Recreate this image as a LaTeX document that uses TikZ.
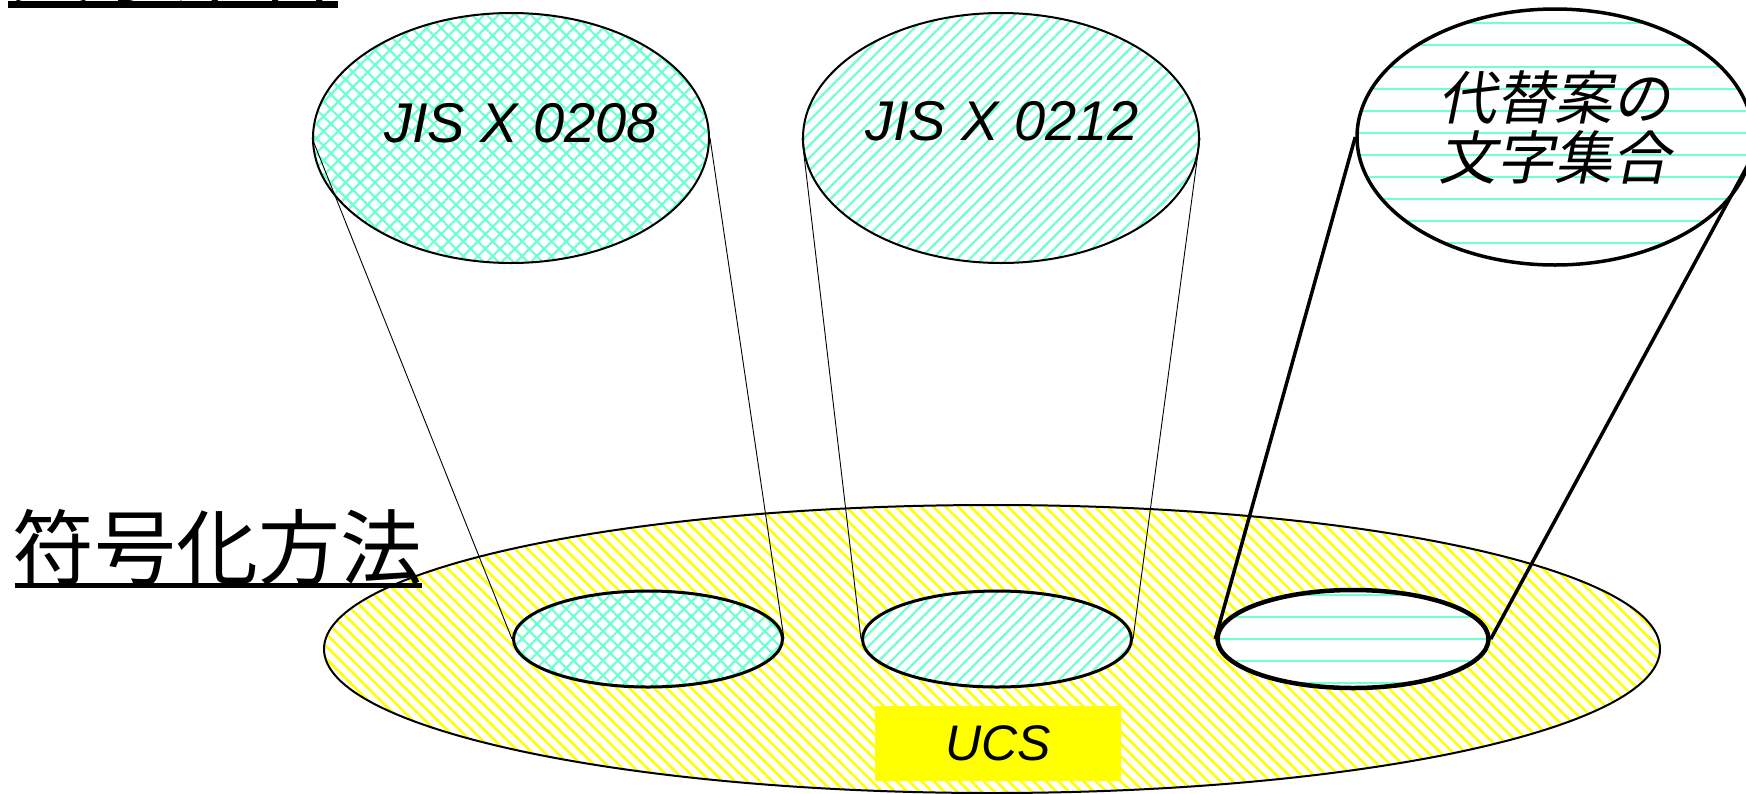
\documentclass[tikz,border=0pt]{standalone}
\usepackage{fontspec}
\usetikzlibrary{shapes.geometric,patterns.meta}
\newfontfamily\jp{Noto Sans CJK JP}
\newfontfamily\jpsl[FakeSlant=0.2]{Noto Sans CJK JP}
\newfontfamily\lat{Liberation Sans}
\definecolor{mint}{RGB}{110,255,210}
\definecolor{ucsyellow}{RGB}{255,255,0}
\tikzset{
  setshape/.style={ellipse, inner sep=0pt, draw=black, preaction={fill=white}},
  cross/.style={pattern={Hatch[angle=45, distance=10.4pt, line width=2.2pt]}, pattern color=mint},
  slant/.style={pattern={Lines[angle=45, distance=8.8pt, line width=2.2pt]}, pattern color=mint},
  flat/.style={pattern={Lines[angle=0, distance=22pt, line width=2pt]}, pattern color=mint},
  thinlink/.style={draw=black, line width=0.9pt},
  thicklink/.style={draw=black, line width=3.5pt},
  heading/.style={anchor=base west, inner sep=0pt, font=\jp\fontsize{82}{90}\selectfont},
  setlabel/.style={inner sep=0pt, font=\lat\itshape\fontsize{56}{60}\selectfont},
}
\begin{document}
\begin{tikzpicture}[x=1pt, y=-1pt]
\useasboundingbox (0,0) rectangle (1746,793);
\clip (0,0) rectangle (1746,793);
\fill[white] (0,0) rectangle (1746,793);

% encoding space
\node[ellipse, inner sep=0pt, minimum width=1336pt, minimum height=288pt,
      draw=black, line width=2pt,
      pattern={Lines[angle=-45, distance=8.8pt, line width=2.6pt]}, pattern color=ucsyellow]
      (ucs) at (992,649) {};
\node[fill=ucsyellow, minimum width=246pt, minimum height=75pt, inner sep=0pt,
      font=\lat\itshape\fontsize{50}{54}\selectfont] (ucslabel) at (998,743.5) {UCS};

% mapped regions inside UCS
\node[setshape, cross, line width=3pt, minimum width=269pt, minimum height=96pt] (s1) at (648,639) {};
\node[setshape, slant, line width=3pt, minimum width=269pt, minimum height=96pt] (s2) at (997,639) {};
\node[setshape, flat, line width=4.5pt, minimum width=271pt, minimum height=98pt] (s3) at (1353,639) {};

% character sets
\node[setshape, cross, line width=2pt, minimum width=396pt, minimum height=250pt] (e1) at (511,138) {};
\node[setshape, slant, line width=2pt, minimum width=396pt, minimum height=250pt] (e2) at (1001,138) {};
\node[setshape, flat, line width=3.5pt, minimum width=396pt, minimum height=256pt] (e3) at (1555,137) {};
\coordinate (e3r) at (1763,137);

% projections
\draw[thinlink] (e1.west) -- (s1.west);
\draw[thinlink] (e1.east) -- (s1.east);
\draw[thinlink] (e2.west) -- (s2.west);
\draw[thinlink] (e2.east) -- (s2.east);
\draw[thicklink] (e3.west) -- (s3.west);
\draw[thicklink] (e3r) -- (s3.east);

% labels
\node[setlabel] (l1) at (521,123) {JIS X 0208};
\node[setlabel] (l2) at (1002,121) {JIS X 0212};
\node[inner sep=0pt, align=center, font=\jpsl\fontsize{58}{60}\selectfont] (l3) at (1554,127) {代替案の\\文字集合};

% headings
\node[heading] (h1) at (10,-5) {文字集合};
\draw[line width=6.5pt] ([xshift=-2pt,yshift=-9.5pt]h1.base west) -- ([yshift=-9.5pt]h1.base east);
\node[heading] (h2) at (12,578) {符号化方法};
\draw[line width=5pt] ([xshift=3pt,yshift=-7.5pt]h2.base west) -- ([yshift=-7.5pt]h2.base east);
\end{tikzpicture}
\end{document}
